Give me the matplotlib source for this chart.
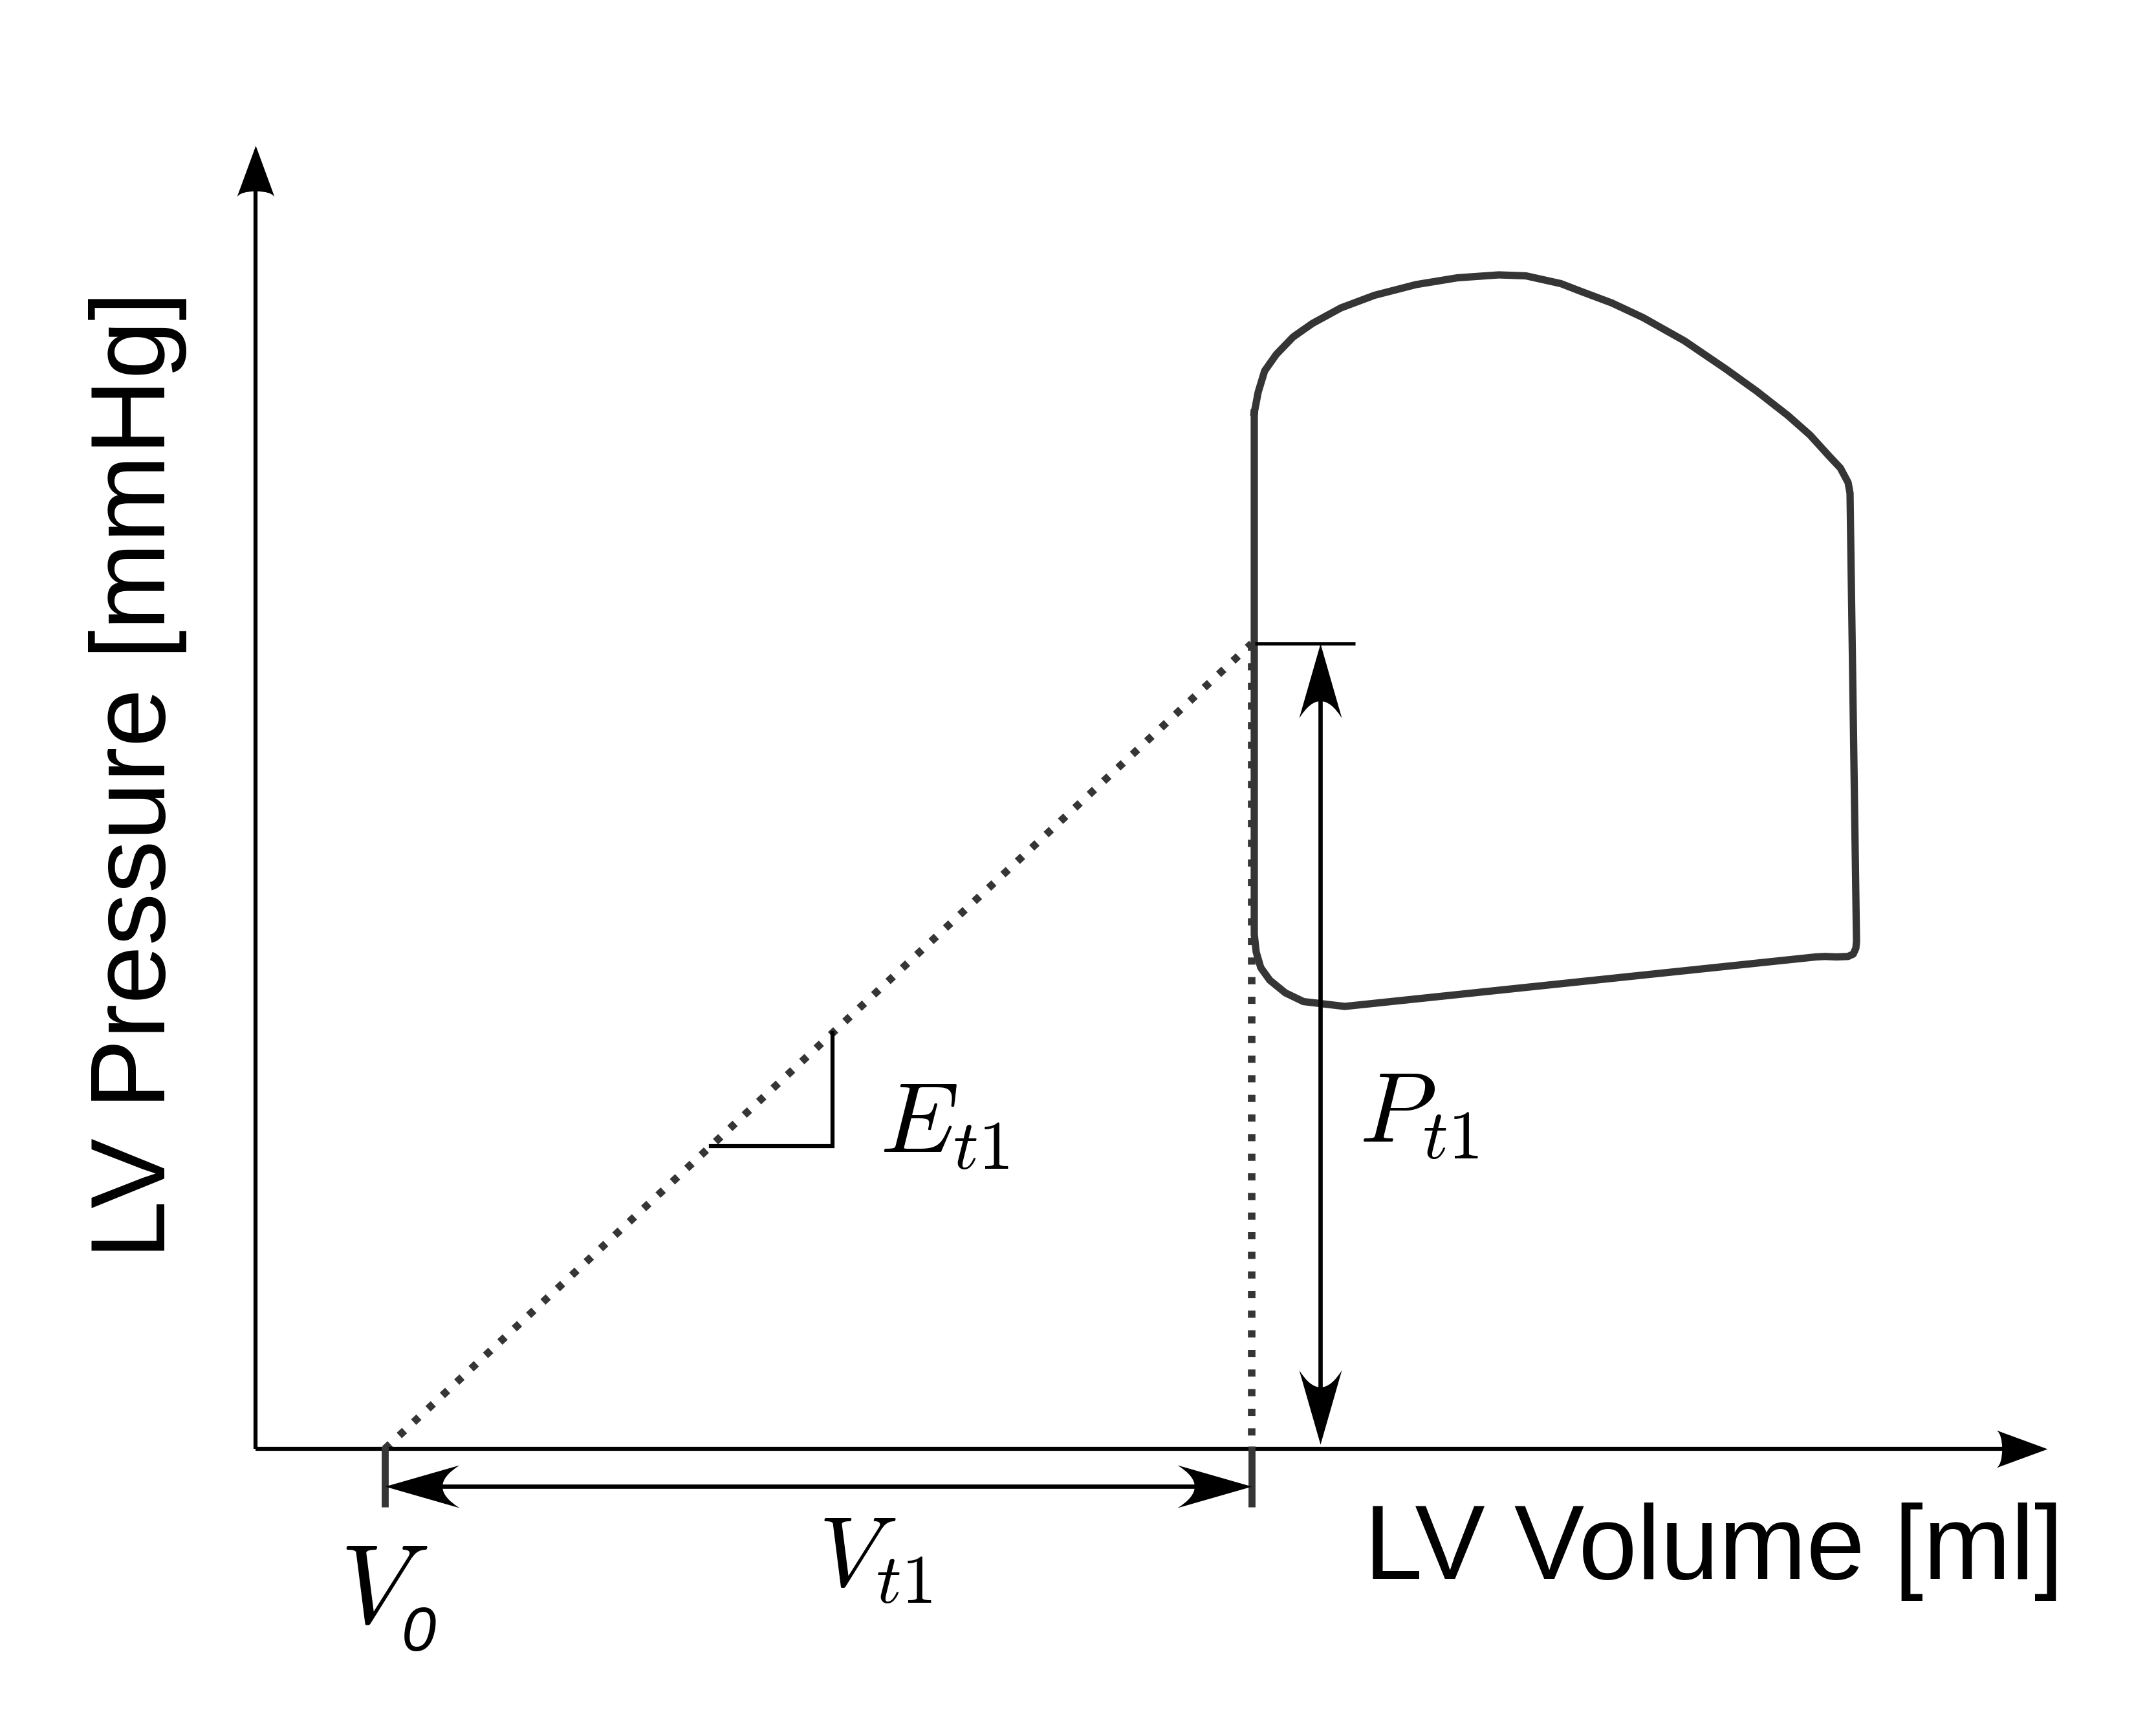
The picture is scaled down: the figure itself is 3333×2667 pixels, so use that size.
import numpy as np
import matplotlib
matplotlib.use("Agg")
import matplotlib.pyplot as plt
from matplotlib.path import Path
from matplotlib.markers import MarkerStyle
from matplotlib.transforms import Affine2D

plt.rcParams['font.family'] = ['Liberation Sans', 'DejaVu Sans']
plt.rcParams['mathtext.fontset'] = 'cm'

# PV loop: volume [ml] and pressure [mmHg], starting at top of the isovolumic contraction wall
loop_v = [77.2, 77.5, 78.0, 78.9, 80.2, 81.7, 83.9, 86.5, 89.7, 92.9, 96.1, 98.2,
          100.9, 102.45, 104.85, 107.25, 110.45, 113.65, 116.05, 118.45, 120.15,
          121.65, 122.5, 123.1, 123.25,
          123.75, 123.7, 123.5, 123.1, 122.2, 121.3, 120.6,
          84.2, 82.6, 81.0, 79.6, 78.4, 77.7, 77.35, 77.2, 77.2]
loop_p = [106.8, 108.9, 111.1, 112.8, 114.6, 116.0, 117.6, 118.9, 120.0, 120.7, 121.0, 120.9,
          120.1, 119.3, 118.1, 116.6, 114.2, 111.3, 109.0, 106.5, 104.5,
          102.3, 101.1, 99.6, 98.5,
          52.3, 51.6, 51.0, 50.75, 50.7, 50.75, 50.7,
          45.6, 45.85, 46.1, 47.0, 48.3, 49.6, 51.2, 53.0, 106.8]

V0 = 10.0     # volume intercept
Vt1 = 77.0    # volume at t1
Pt1 = 83.0    # pressure at t1
v_axis_end = 138.5
p_axis_end = 134.3
slope_v = [35.2, 44.6]   # little slope triangle on the elastance line

PX_V = 20.0   # pixels per ml
PX_P = 15.0   # pixels per mmHg
DPI = 300

fig = plt.figure(figsize=(3333 / DPI, 2667 / DPI), dpi=DPI)
ax = fig.add_axes([0, 0, 1, 1])
ax.set_xlim(-395 / PX_V, (3333 - 395) / PX_V)
ax.set_ylim(-(2667 - 2240) / PX_P, 2240 / PX_P)
ax.axis('off')

grey = '#353535'


def head(length, width, notch, curve, angle):
    # arrow head with tip at origin, pointing along +x, then rotated
    L, W = length, width / 2
    verts = [(0, 0), (-L, W), (-notch * L, curve * W), (-notch * L, 0),
             (-notch * L, -curve * W), (-L, -W), (0, 0), (0, 0)]
    codes = [Path.MOVETO, Path.LINETO, Path.CURVE3, Path.CURVE3,
             Path.CURVE3, Path.CURVE3, Path.LINETO, Path.CLOSEPOLY]
    return MarkerStyle(Path(verts, codes), transform=Affine2D().rotate_deg(angle))


def arrow_tip(x, y, angle, length=79, width=58, notch=0.89, curve=0.8):
    ms = 2 * length * 72 / DPI
    ax.plot([x], [y], linestyle='none', marker=head(length, width, notch, curve, angle),
            markersize=ms, color='black', markeredgewidth=0, zorder=5)


# dotted elastance line and vertical drop at Vt1
dots = (0, (0.95, 1.65))
ax.plot([V0, Vt1], [0, Pt1], color=grey, lw=2.8, linestyle=dots,
        dash_capstyle='butt', zorder=2)
ax.plot([Vt1, Vt1], [Pt1, 0], color=grey, lw=2.8, linestyle=dots,
        dash_capstyle='butt', zorder=2)

# PV loop
ax.plot(loop_v, loop_p, color=grey, lw=2.7, solid_joinstyle='round', zorder=3)

# axes with arrow heads
ax.plot([0, v_axis_end - 0.6 * 79 / PX_V], [0, 0], color='black', lw=1.5,
        solid_capstyle='butt', zorder=4)
ax.plot([0, 0], [0, p_axis_end - 0.6 * 79 / PX_P], color='black', lw=1.5,
        solid_capstyle='butt', zorder=4)
arrow_tip(v_axis_end, 0, 0)
arrow_tip(0, p_axis_end, 90)

# ticks at V0 and Vt1
for v in [V0, Vt1]:
    ax.plot([v, v], [0.3, -6.0], color=grey, lw=2.6, solid_capstyle='butt', zorder=4)

# Vt1 double arrow
y_arr = -3.87
hl, hw, hn = 115, 66, 0.77
ax.plot([V0 + 0.6 * hl / PX_V, Vt1 - 0.6 * hl / PX_V], [y_arr, y_arr], color='black',
        lw=1.6, solid_capstyle='butt', zorder=4)
arrow_tip(V0, y_arr, 180, hl, hw, hn, 0.5)
arrow_tip(Vt1, y_arr, 0, hl, hw, hn, 0.5)

# Pt1 double arrow and level line
x_arr = 82.3
ax.plot([77.25, 85.0], [Pt1, Pt1], color='black', lw=1.2, solid_capstyle='butt', zorder=4)
ax.plot([x_arr, x_arr], [0.5 + 0.6 * hl / PX_P, Pt1 - 0.6 * hl / PX_P], color='black',
        lw=1.6, solid_capstyle='butt', zorder=4)
arrow_tip(x_arr, Pt1, 90, hl, hw, hn, 0.5)
arrow_tip(x_arr, 0.5, -90, hl, hw, hn, 0.5)

# slope triangle
slope_p = [Pt1 * (v - V0) / (Vt1 - V0) for v in slope_v]
ax.plot([slope_v[0], slope_v[1], slope_v[1]], [slope_p[0], slope_p[0], slope_p[1]],
        color='black', lw=1.5, solid_joinstyle='miter', zorder=4)

# labels
ax.text(48.25, 30.6, r'$E_{t1}$', fontsize=37, ha='left', va='baseline')
ax.text(85.3, 31.7, r'$P_{t1}$', fontsize=37, ha='left', va='baseline')
ax.text(43.5, -14.1, r'$V_{t1}$', fontsize=37, ha='left', va='baseline')
ax.text(6.5, -17.9, r'$V$', fontsize=42, ha='left', va='baseline')
ax.text(11.3, -20.8, '0', fontsize=23, style='italic', ha='left', va='baseline')

ax.text(85.7, -13.4, 'LV Volume [ml]', fontsize=39, ha='left', va='baseline')
ax.text(-7.0, 19.6, 'LV Pressure [mmHg]', fontsize=39, rotation=90,
        rotation_mode='anchor', ha='left', va='baseline')

fig.savefig('out.png', dpi=DPI)
